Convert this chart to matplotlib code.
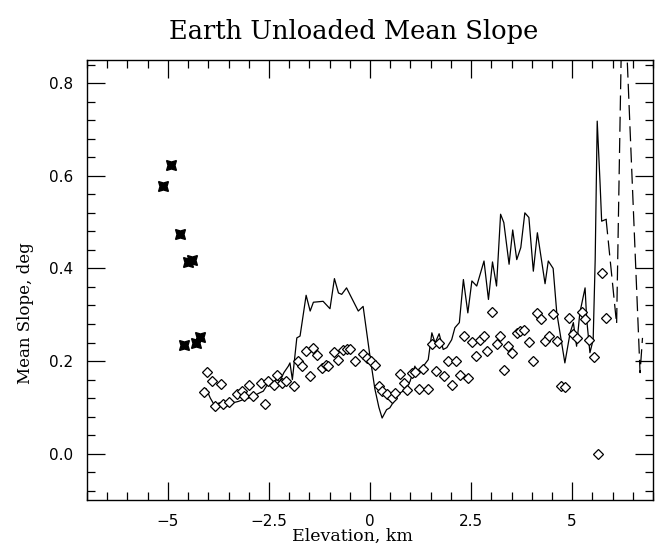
import numpy as np
import matplotlib
matplotlib.use("Agg")
import matplotlib.pyplot as plt
from matplotlib.ticker import MultipleLocator, FixedFormatter, FixedLocator

# deep points (stars)
star_x = [-5.11, -4.92, -4.71, -4.51, -4.41, -4.60, -4.30, -4.20]
star_y = [0.579, 0.623, 0.475, 0.414, 0.418, 0.234, 0.239, 0.252]

# mean slope, solid curve
line_x = [-4.05, -3.95, -3.83, -3.73, -3.62, -3.50, -3.38, -3.25, -3.13, -3.00,
          -2.89, -2.76, -2.64, -2.53, -2.43, -2.33, -2.23, -2.13, -2.02, -1.98,
          -1.92, -1.81, -1.73, -1.58, -1.48, -1.40, -1.16, -0.99, -0.88, -0.78,
          -0.70, -0.58, -0.29, -0.17, 0.00, 0.12, 0.22, 0.30, 0.41, 0.49,
          0.62, 0.74, 0.87, 0.99, 1.11, 1.19, 1.32, 1.44, 1.53, 1.61,
          1.71, 1.81, 1.90, 2.02, 2.10, 2.21, 2.31, 2.42, 2.52, 2.64,
          2.82, 2.93, 3.03, 3.13, 3.23, 3.31, 3.44, 3.53, 3.63, 3.73,
          3.83, 3.93, 4.04, 4.14, 4.33, 4.41, 4.53, 4.62, 4.82, 4.95,
          5.03, 5.11, 5.19, 5.32, 5.36, 5.44, 5.52, 5.57, 5.62, 5.69,
          5.73, 5.84]
line_y = [0.140, 0.120, 0.102, 0.110, 0.098, 0.105, 0.110, 0.113, 0.117, 0.120,
          0.124, 0.130, 0.135, 0.150, 0.145, 0.160, 0.156, 0.175, 0.189, 0.196,
          0.160, 0.250, 0.254, 0.342, 0.308, 0.327, 0.329, 0.313, 0.378, 0.347,
          0.344, 0.358, 0.308, 0.318, 0.210, 0.140, 0.100, 0.077, 0.095, 0.099,
          0.117, 0.131, 0.138, 0.156, 0.189, 0.171, 0.189, 0.203, 0.261, 0.239,
          0.259, 0.225, 0.229, 0.246, 0.272, 0.283, 0.376, 0.304, 0.373, 0.362,
          0.416, 0.333, 0.414, 0.362, 0.517, 0.499, 0.409, 0.483, 0.419, 0.445,
          0.520, 0.510, 0.394, 0.477, 0.367, 0.416, 0.400, 0.304, 0.196, 0.261,
          0.283, 0.232, 0.304, 0.358, 0.290, 0.218, 0.246, 0.419, 0.718, 0.585,
          0.502, 0.506]

# sparse high-elevation part, dashed
dash_x = [5.84, 5.95, 6.10, 6.24, 6.32, 6.68, 6.74]
dash_y = [0.506, 0.410, 0.280, 1.000, 0.940, 0.175, 0.250]

# diamonds
dia_x = [-4.11, -4.02, -3.90, -3.83, -3.69, -3.63, -3.50, -3.30, -3.17, -3.11,
         -2.99, -2.89, -2.70, -2.60, -2.52, -2.37, -2.29, -2.18, -2.08, -1.87,
         -1.77, -1.69, -1.59, -1.48, -1.40, -1.30, -1.19, -1.09, -1.03, -0.89,
         -0.78, -0.66, -0.58, -0.49, -0.37, -0.18, -0.08, 0.02, 0.12, 0.22,
         0.29, 0.41, 0.54, 0.62, 0.73, 0.83, 0.92, 1.03, 1.11, 1.22,
         1.32, 1.44, 1.53, 1.63, 1.71, 1.83, 1.94, 2.02, 2.13, 2.23,
         2.33, 2.43, 2.52, 2.62, 2.72, 2.82, 2.90, 3.02, 3.13, 3.22,
         3.32, 3.42, 3.52, 3.63, 3.71, 3.81, 3.93, 4.03, 4.12, 4.23,
         4.33, 4.43, 4.52, 4.62, 4.72, 4.82, 4.93, 5.01, 5.11, 5.24,
         5.32, 5.42, 5.54, 5.65, 5.73, 5.84]
dia_y = [0.133, 0.177, 0.156, 0.102, 0.151, 0.108, 0.111, 0.128, 0.135, 0.125,
         0.148, 0.124, 0.153, 0.108, 0.156, 0.149, 0.169, 0.153, 0.156, 0.146,
         0.200, 0.190, 0.221, 0.167, 0.229, 0.212, 0.185, 0.192, 0.189, 0.219,
         0.203, 0.223, 0.226, 0.226, 0.200, 0.216, 0.207, 0.200, 0.192, 0.146,
         0.135, 0.128, 0.120, 0.131, 0.171, 0.153, 0.138, 0.174, 0.176, 0.140,
         0.182, 0.140, 0.237, 0.178, 0.239, 0.167, 0.200, 0.149, 0.200, 0.169,
         0.254, 0.164, 0.241, 0.210, 0.246, 0.255, 0.221, 0.306, 0.236, 0.254,
         0.180, 0.232, 0.218, 0.261, 0.264, 0.267, 0.241, 0.200, 0.303, 0.291,
         0.244, 0.254, 0.301, 0.243, 0.147, 0.143, 0.293, 0.259, 0.250, 0.306,
         0.290, 0.245, 0.208, 0.000, 0.391, 0.293]

xticks = [-5, -2.5, 0, 2.5, 5]
xtick_labels = ["\u22125", "\u22122.5", "0", "2.5", "5"]
yticks = [0.0, 0.2, 0.4, 0.6, 0.8]
ytick_labels = ["0.0", "0.2", "0.4", "0.6", "0.8"]

fig = plt.figure(figsize=(6.55, 5.45), dpi=100)
ax = fig.add_axes([87/655, 1-500/545, 566/655, 440/545])

ax.plot(line_x, line_y, color="black", lw=0.9)
ax.plot(dash_x, dash_y, color="black", lw=0.9, dashes=(12, 5))
ax.plot(dia_x, dia_y, ls="none", marker="D", ms=5, mfc="white", mec="black", mew=0.9)
ax.plot(star_x, star_y, ls="none", marker=(4, 1, 45), ms=10, color="black")

ax.set_xlim(-7, 7)
ax.set_ylim(-0.1, 0.85)

ax.xaxis.set_major_locator(FixedLocator(xticks))
ax.xaxis.set_major_formatter(FixedFormatter(xtick_labels))
ax.xaxis.set_minor_locator(MultipleLocator(0.5))
ax.yaxis.set_major_locator(FixedLocator(yticks))
ax.yaxis.set_major_formatter(FixedFormatter(ytick_labels))
ax.yaxis.set_minor_locator(MultipleLocator(0.04))
ax.tick_params(which="both", direction="in", top=True, right=True, width=0.9)
ax.tick_params(which="major", length=13, labelsize=11, pad=10)
ax.tick_params(which="minor", length=6)
for s in ax.spines.values():
    s.set_linewidth(1.0)

fig.text(354/655, 1-31/545, "Earth Unloaded Mean Slope", ha="center", va="center",
         family="DejaVu Serif", fontsize=18.5)
fig.text(352/655, 1-536/545, "Elevation, km", ha="center", va="center",
         family="DejaVu Serif", fontsize=12.5)
fig.text(25/655, 1-313/545, "Mean Slope, deg", ha="center", va="center",
         rotation=90, family="DejaVu Serif", fontsize=12)

fig.savefig("out.png", dpi=100)
